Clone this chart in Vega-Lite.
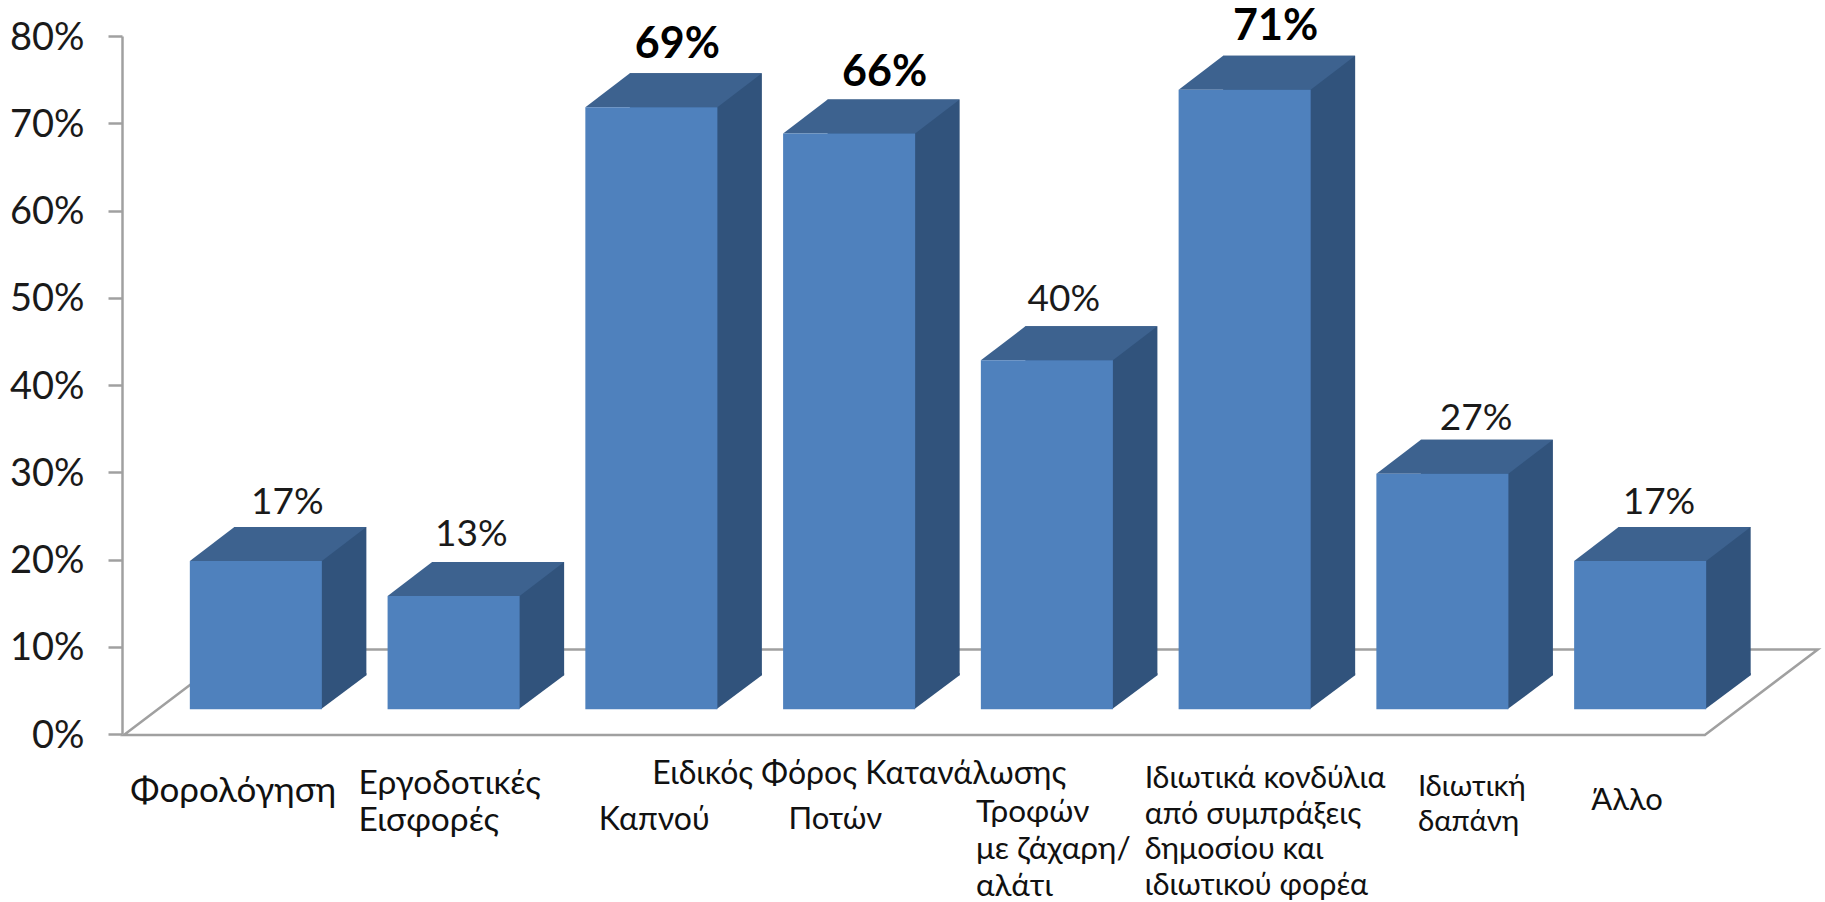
{"$schema":"https://vega.github.io/schema/vega-lite/v6.json","width":1700,"height":698,"autosize":{"type":"none"},"padding":{"left":122,"top":36,"right":3,"bottom":168},"background":"#ffffff","config":{"view":{"stroke":null},"text":{"font":"Lato"}},
"datasets":{"bars":[
{"cat":"Φορολόγηση","v":0.17},{"cat":"Εργοδοτικές Εισφορές","v":0.13},{"cat":"Καπνού","v":0.69},{"cat":"Ποτών","v":0.66},{"cat":"Τροφών με ζάχαρη/αλάτι","v":0.40},{"cat":"Ιδιωτικά κονδύλια","v":0.71},{"cat":"Ιδιωτική δαπάνη","v":0.27},{"cat":"Άλλο","v":0.17}],
"labels":[
{"cat":"Φορολόγηση","label":"Φορολόγηση"},{"cat":"Εργοδοτικές Εισφορές","label":"Εργοδοτικές\nΕισφορές"},{"cat":"Καπνού","label":"Καπνού"},{"cat":"Ποτών","label":"Ποτών"},{"cat":"Τροφών με ζάχαρη/αλάτι","label":"Τροφών\nμε ζάχαρη/\nαλάτι"},{"cat":"Ιδιωτικά κονδύλια","label":"Ιδιωτικά κονδύλια\nαπό συμπράξεις\nδημοσίου και\nιδιωτικού φορέα"},{"cat":"Ιδιωτική δαπάνη","label":"Ιδιωτική\nδαπάνη"},{"cat":"Άλλο","label":"Άλλο"}],
"group":[{"cat":"Καπνού","label":"Ειδικός Φόρος Κατανάλωσης"}],"floor":[{"cat":"Φορολόγηση","v":0}]},
"data":{"name":"bars"},
"encoding":{"x":{"field":"cat","type":"nominal","axis":null,"scale":{"type":"band","domain":["Φορολόγηση","Εργοδοτικές Εισφορές","Καπνού","Ποτών","Τροφών με ζάχαρη/αλάτι","Ιδιωτικά κονδύλια","Ιδιωτική δαπάνη","Άλλο"],"range":[35,1617],"paddingInner":0.3323,"paddingOuter":0.166}}},
"layer":[
{"data":{"name":"floor"},"mark":{"type":"point","filled":false,"opacity":1,"stroke":"#a0a0a0","strokeWidth":2.5,"size":4,"shape":"M-132,1 L1449,1 L1562,-84.5 L-19,-84.5 Z"},"encoding":{"y":{"field":"v","type":"quantitative","scale":{"domain":[0,0.8]},"axis":{"title":null,"values":[0,0.1,0.2,0.3,0.4,0.5,0.6,0.7,0.8],"format":".0%","grid":false,"domainColor":"#a0a0a0","domainWidth":2.5,"tickColor":"#a0a0a0","tickWidth":2.5,"tickSize":14,"labelFont":"Lato","labelFontSize":38,"labelColor":"#1a1a1a","labelPadding":24,"labelBaseline":"middle","labelOffset":2}}}},
{"mark":{"type":"bar","fill":"#31537c","xOffset":44.5,"yOffset":-58.7},"encoding":{"y":{"field":"v","type":"quantitative"}}},
{"mark":{"type":"point","filled":true,"opacity":1,"fill":"#31537c","size":4,"shape":"M65,-24.7 L110.5,-58.7 L110.5,-61 L65,-61 Z"},"encoding":{"y":{"datum":0,"type":"quantitative"}}},
{"mark":{"type":"point","filled":true,"opacity":1,"fill":"#3d628f","size":4,"shape":"M-66,-24.7 L66,-24.7 L110.5,-58.7 L-21.5,-58.7 Z"},"encoding":{"y":{"field":"v","type":"quantitative"}}},
{"mark":{"type":"bar","fill":"#4f81bd","yOffset":-24.7},"encoding":{"y":{"field":"v","type":"quantitative"}}},
{"transform":[{"filter":"datum.cat==='Φορολόγηση'"}],"mark":{"type":"text","fontSize":37,"color":"#1a1a1a","baseline":"middle","dx":31.5,"dy":-82.7},"encoding":{"y":{"field":"v","type":"quantitative"},"text":{"field":"v","format":".0%"}}},
{"transform":[{"filter":"datum.cat==='Εργοδοτικές Εισφορές'"}],"mark":{"type":"text","fontSize":37,"color":"#1a1a1a","baseline":"middle","dx":17.7,"dy":-85.2},"encoding":{"y":{"field":"v","type":"quantitative"},"text":{"field":"v","format":".0%"}}},
{"transform":[{"filter":"datum.cat==='Καπνού'"}],"mark":{"type":"text","fontSize":43,"fontWeight":"bold","color":"#000000","baseline":"middle","dx":26,"dy":-87},"encoding":{"y":{"field":"v","type":"quantitative"},"text":{"field":"v","format":".0%"}}},
{"transform":[{"filter":"datum.cat==='Ποτών'"}],"mark":{"type":"text","fontSize":43,"fontWeight":"bold","color":"#000000","baseline":"middle","dx":35.5,"dy":-85.5},"encoding":{"y":{"field":"v","type":"quantitative"},"text":{"field":"v","format":".0%"}}},
{"transform":[{"filter":"datum.cat==='Τροφών με ζάχαρη/αλάτι'"}],"mark":{"type":"text","fontSize":37,"color":"#1a1a1a","baseline":"middle","dx":17,"dy":-85.5},"encoding":{"y":{"field":"v","type":"quantitative"},"text":{"field":"v","format":".0%"}}},
{"transform":[{"filter":"datum.cat==='Ιδιωτικά κονδύλια'"}],"mark":{"type":"text","fontSize":43,"fontWeight":"bold","color":"#000000","baseline":"middle","dx":31,"dy":-88},"encoding":{"y":{"field":"v","type":"quantitative"},"text":{"field":"v","format":".0%"}}},
{"transform":[{"filter":"datum.cat==='Ιδιωτική δαπάνη'"}],"mark":{"type":"text","fontSize":37,"color":"#1a1a1a","baseline":"middle","dx":33.7,"dy":-79.4},"encoding":{"y":{"field":"v","type":"quantitative"},"text":{"field":"v","format":".0%"}}},
{"transform":[{"filter":"datum.cat==='Άλλο'"}],"mark":{"type":"text","fontSize":37,"color":"#1a1a1a","baseline":"middle","dx":18.8,"dy":-82.7},"encoding":{"y":{"field":"v","type":"quantitative"},"text":{"field":"v","format":".0%"}}},
{"data":{"name":"labels"},"transform":[{"filter":"datum.cat==='Φορολόγηση'"}],"mark":{"type":"text","fontSize":35,"color":"#111111","align":"left","baseline":"middle","lineBreak":"\n","lineHeight":37,"dx":-125.6,"dy":57},"encoding":{"y":{"datum":0,"type":"quantitative"},"text":{"field":"label"}}},
{"data":{"name":"labels"},"transform":[{"filter":"datum.cat==='Εργοδοτικές Εισφορές'"}],"mark":{"type":"text","fontSize":33.5,"color":"#111111","align":"left","baseline":"middle","lineBreak":"\n","lineHeight":37,"dx":-95,"dy":50.4},"encoding":{"y":{"datum":0,"type":"quantitative"},"text":{"field":"label"}}},
{"data":{"name":"group"},"mark":{"type":"text","fontSize":32,"color":"#111111","align":"left","baseline":"middle","dx":1,"dy":40},"encoding":{"y":{"datum":0,"type":"quantitative"},"text":{"field":"label"}}},
{"data":{"name":"labels"},"transform":[{"filter":"datum.cat==='Καπνού'"}],"mark":{"type":"text","fontSize":32,"color":"#111111","align":"left","baseline":"middle","dx":-52.5,"dy":85.5},"encoding":{"y":{"datum":0,"type":"quantitative"},"text":{"field":"label"}}},
{"data":{"name":"labels"},"transform":[{"filter":"datum.cat==='Ποτών'"}],"mark":{"type":"text","fontSize":31,"color":"#111111","align":"left","baseline":"middle","dx":-60.6,"dy":85.5},"encoding":{"y":{"datum":0,"type":"quantitative"},"text":{"field":"label"}}},
{"data":{"name":"labels"},"transform":[{"filter":"datum.cat==='Τροφών με ζάχαρη/αλάτι'"}],"mark":{"type":"text","fontSize":31.5,"color":"#111111","align":"left","baseline":"middle","lineBreak":"\n","lineHeight":37,"dx":-71,"dy":78.5},"encoding":{"y":{"datum":0,"type":"quantitative"},"text":{"field":"label"}}},
{"data":{"name":"labels"},"transform":[{"filter":"datum.cat==='Ιδιωτικά κονδύλια'"}],"mark":{"type":"text","fontSize":30.5,"color":"#111111","align":"left","baseline":"middle","lineBreak":"\n","lineHeight":35.5,"dx":-100,"dy":45},"encoding":{"y":{"datum":0,"type":"quantitative"},"text":{"field":"label"}}},
{"data":{"name":"labels"},"transform":[{"filter":"datum.cat==='Ιδιωτική δαπάνη'"}],"mark":{"type":"text","fontSize":29.5,"color":"#111111","align":"left","baseline":"middle","lineBreak":"\n","lineHeight":35,"dx":-24.5,"dy":53},"encoding":{"y":{"datum":0,"type":"quantitative"},"text":{"field":"label"}}},
{"data":{"name":"labels"},"transform":[{"filter":"datum.cat==='Άλλο'"}],"mark":{"type":"text","fontSize":31,"color":"#111111","align":"left","baseline":"middle","dx":-48.9,"dy":67},"encoding":{"y":{"datum":0,"type":"quantitative"},"text":{"field":"label"}}}
]}
